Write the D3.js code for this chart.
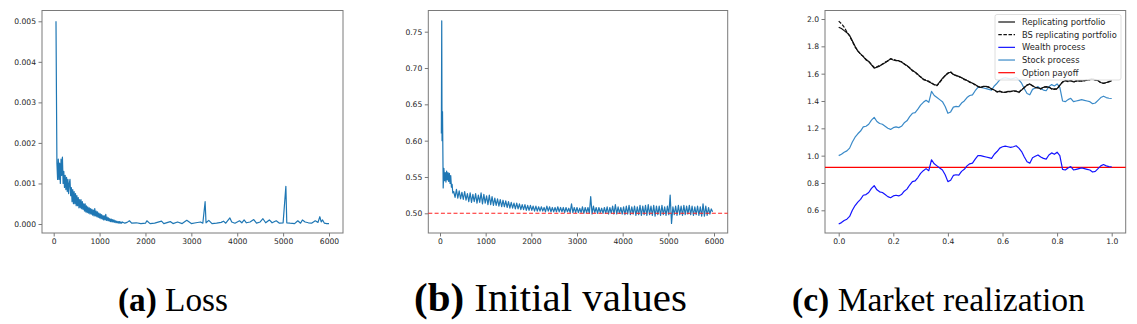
<!DOCTYPE html>
<html><head><meta charset="utf-8">
<script src="https://cdn.jsdelivr.net/npm/d3@7"></script>
<style>body{margin:0;background:#fff}svg{display:block}</style>
</head><body>
<svg id="chart" width="1137" height="324"></svg>
<script>
// ---------- Panel (a): Loss ----------
const lossHeadIter = [50,60];
const lossHeadVal = [0.0050,0.0032];
const lossBandIter = d3.range(70, 1510, 15);
const lossBandVal = [
  0.0015,0.0011,0.0016,0.0011,0.0015,0.0010,0.0016,0.0012,0.00165,0.0010,
  0.0013,0.0009,0.0012,0.00085,0.00115,0.0008,0.0011,0.00075,0.0010,0.0011,
  0.0007,0.0009,0.00055,0.00085,0.0005,0.0008,0.0005,0.00075,0.00045,0.0007,
  0.00045,0.00065,0.0004,0.0006,0.0004,0.0006,0.00038,0.00055,0.00036,0.0005,
  0.00032,0.0005,0.0003,0.00045,0.00028,0.00042,0.00027,0.0004,0.00025,0.00038,
  0.00024,0.00036,0.00022,0.00034,0.0002,0.00038,0.0002,0.00032,0.00018,0.0003,
  0.00016,0.00027,0.00015,0.00025,0.00013,0.00023,0.00012,0.00021,0.0001,0.0002,
  0.0001,0.00024,0.00009,0.00017,0.00008,0.00015,0.00007,0.00013,0.00006,0.00012,
  0.00005,0.00011,0.00005,0.0001,0.00004,0.00008,0.00003,0.00007,0.00003,0.00006,
  0.00002,0.00006,0.00002,0.00005,0.00002,0.00005];
const lossTailIter = [1550,1600,1650,1700,1800,1900,2000,2030,2100,2200,2350,2400,2540,2600,2700,2800,2900,3000,3100,3200,3250,3300,3320,3380,3450,3550,3650,3700,3750,3840,3880,3950,4050,4100,4150,4200,4280,4360,4420,4500,4560,4620,4700,4760,4850,4920,5000,5060,5080,5150,5250,5320,5380,5420,5480,5550,5620,5700,5760,5800,5830,5860,5900,5950,6000];
const lossTailVal = [0.00002,0.00004,0.00008,0.00002,0.00003,0.00001,0.00002,0.00008,0.00001,0.00002,0.00007,0.00001,0.00006,0.00001,0.00005,0.00001,0.00009,0.00001,0.00003,0.00005,0.00002,0.00055,0.00003,0.00009,0.00001,0.00002,0.00004,0.00007,0.00002,0.00015,0.00005,0.00002,0.00008,0.00003,0.0001,0.00003,0.00005,0.00011,0.00002,0.00005,0.00013,0.00003,0.0001,0.00003,0.00008,0.00002,0.00003,0.00093,0.00003,0.00002,0.00001,0.00008,0.00002,0.0001,0.00005,0.00003,0.00002,0.00008,0.00004,0.00018,0.00005,0.0001,0.00002,0.00001,0.00001];
const lossXTicks = [0,1000,2000,3000,4000,5000,6000];
const lossYTicks = [0,0.001,0.002,0.003,0.004,0.005];

// ---------- Panel (b): Initial values ----------
const initHeadIter = [30,38,45,55,70,85,100,115,130,145,160,175,190,205,220,235,250,265,280];
const initHeadVal = [0.61,0.765,0.60,0.64,0.535,0.562,0.545,0.556,0.543,0.558,0.546,0.556,0.544,0.555,0.541,0.552,0.536,0.540,0.528];
const initBandIter = d3.range(300, 6000, 30);
const initBandVal = [
  0.530,0.522,0.533,0.521,0.531,0.520,0.529,0.519,0.530,0.518,
  0.527,0.516,0.528,0.515,0.526,0.516,0.527,0.514,0.525,0.515,
  0.528,0.513,0.526,0.514,0.524,0.512,0.525,0.512,0.523,0.511,
  0.521,0.511,0.520,0.510,0.519,0.509,0.518,0.509,0.517,0.508,
  0.516,0.507,0.515,0.507,0.514,0.506,0.514,0.506,0.513,0.505,
  0.512,0.505,0.512,0.504,0.511,0.504,0.511,0.504,0.510,0.503,
  0.510,0.503,0.509,0.503,0.509,0.503,0.508,0.502,0.510,0.503,
  0.509,0.502,0.508,0.502,0.508,0.502,0.509,0.502,0.508,0.502,
  0.508,0.501,0.508,0.502,0.507,0.501,0.513,0.501,0.508,0.501,
  0.508,0.501,0.507,0.501,0.509,0.500,0.508,0.501,0.508,0.500,
  0.523,0.499,0.510,0.501,0.508,0.500,0.508,0.501,0.507,0.500,
  0.508,0.500,0.509,0.499,0.508,0.500,0.510,0.499,0.512,0.499,
  0.509,0.500,0.508,0.499,0.509,0.498,0.510,0.499,0.511,0.498,
  0.509,0.499,0.510,0.497,0.509,0.498,0.511,0.497,0.510,0.498,
  0.511,0.497,0.512,0.498,0.510,0.497,0.511,0.496,0.510,0.498,
  0.510,0.497,0.511,0.498,0.509,0.497,0.510,0.498,0.525,0.486,
  0.509,0.498,0.510,0.497,0.511,0.498,0.510,0.497,0.511,0.498,
  0.510,0.499,0.511,0.498,0.510,0.497,0.509,0.498,0.510,0.497,
  0.509,0.496,0.513,0.496,0.510,0.497,0.508,0.499,0.506,0.502];
const initTarget = 0.5;
const initXTicks = [0,1000,2000,3000,4000,5000,6000];
const initYTicks = [0.50,0.55,0.60,0.65,0.70,0.75];

// ---------- Panel (c): Market realization ----------
const mktTime = d3.range(101).map(i => i / 100);
const replicating = [1.940,1.930,1.915,1.900,1.880,1.840,1.800,1.765,1.745,1.725,1.700,1.690,1.665,1.640,1.648,1.655,1.670,1.680,1.695,1.707,1.700,1.695,1.695,1.685,1.670,1.660,1.640,1.625,1.610,1.595,1.575,1.560,1.550,1.545,1.530,1.520,1.515,1.540,1.565,1.585,1.605,1.610,1.595,1.585,1.580,1.570,1.560,1.550,1.540,1.530,1.520,1.505,1.500,1.505,1.508,1.500,1.490,1.480,1.468,1.470,1.465,1.462,1.470,1.468,1.475,1.470,1.465,1.480,1.500,1.515,1.525,1.510,1.500,1.495,1.490,1.500,1.505,1.500,1.490,1.485,1.490,1.515,1.540,1.548,1.545,1.548,1.540,1.545,1.548,1.545,1.550,1.552,1.558,1.560,1.555,1.548,1.535,1.528,1.535,1.540,1.548];
const bsReplicating = [1.985,1.965,1.940,1.905,1.875,1.835,1.795,1.770,1.740,1.728,1.705,1.688,1.668,1.645,1.650,1.660,1.668,1.684,1.692,1.710,1.704,1.698,1.690,1.688,1.672,1.655,1.645,1.620,1.612,1.590,1.578,1.556,1.552,1.540,1.533,1.518,1.512,1.536,1.562,1.588,1.602,1.614,1.592,1.588,1.576,1.572,1.556,1.552,1.536,1.532,1.516,1.508,1.497,1.508,1.505,1.503,1.486,1.483,1.465,1.473,1.462,1.465,1.467,1.471,1.472,1.473,1.462,1.483,1.497,1.518,1.522,1.513,1.497,1.498,1.487,1.503,1.502,1.503,1.487,1.488,1.487,1.518,1.537,1.551,1.542,1.551,1.537,1.548,1.545,1.548,1.547,1.555,1.555,1.563,1.552,1.551,1.532,1.531,1.532,1.543,1.545];
const wealth = [0.500,0.510,0.525,0.535,0.555,0.600,0.635,0.660,0.680,0.710,0.715,0.730,0.760,0.780,0.750,0.735,0.730,0.715,0.700,0.692,0.705,0.710,0.705,0.715,0.740,0.755,0.785,0.810,0.815,0.840,0.870,0.890,0.905,0.890,0.970,0.940,0.925,0.910,0.895,0.860,0.810,0.820,0.855,0.860,0.858,0.885,0.900,0.925,0.940,0.945,0.975,1.000,1.000,0.995,0.990,0.985,0.980,1.010,1.030,1.055,1.065,1.070,1.065,1.060,1.065,1.072,1.055,1.030,0.990,0.955,0.945,0.985,0.995,1.005,0.990,0.980,0.975,1.005,1.020,1.010,1.025,1.000,0.900,0.895,0.910,0.920,0.895,0.900,0.905,0.910,0.905,0.900,0.895,0.880,0.885,0.905,0.925,0.935,0.925,0.920,0.918];
const stock = [1.000,1.010,1.025,1.035,1.055,1.100,1.135,1.160,1.180,1.210,1.215,1.230,1.260,1.280,1.250,1.235,1.230,1.215,1.200,1.192,1.205,1.210,1.205,1.215,1.240,1.255,1.285,1.310,1.315,1.340,1.370,1.390,1.405,1.390,1.470,1.440,1.425,1.410,1.395,1.360,1.310,1.320,1.355,1.360,1.358,1.385,1.400,1.425,1.440,1.445,1.475,1.500,1.500,1.495,1.490,1.485,1.480,1.510,1.530,1.555,1.565,1.570,1.565,1.560,1.565,1.572,1.555,1.530,1.490,1.455,1.445,1.485,1.495,1.505,1.490,1.480,1.475,1.505,1.520,1.510,1.525,1.500,1.400,1.395,1.410,1.420,1.395,1.400,1.405,1.410,1.405,1.400,1.395,1.380,1.385,1.405,1.425,1.435,1.425,1.420,1.418];
const optionPayoff = 0.914;
const mktXTicks = [0,0.2,0.4,0.6,0.8,1.0];
const mktYTicks = [0.6,0.8,1.0,1.2,1.4,1.6,1.8,2.0];
const legendLabels = ["Replicating portfolio","BS replicating portfolio","Wealth process","Stock process","Option payoff"];
const captions = [["(a)"," Loss"],["(b)"," Initial values"],["(c)"," Market realization"]];

// ---------- Drawing ----------
const svg = d3.select("#chart");
const TICKFONT = "DejaVu Sans, sans-serif";

function panel(cfg) {
  const g = svg.append("g");
  const x = d3.scaleLinear().domain(cfg.xDom).range(cfg.xRng);
  const y = d3.scaleLinear().domain(cfg.yDom).range(cfg.yRng);
  const f = cfg.frame;
  const xa = g.append("g").attr("transform", `translate(0,${f.b})`)
    .call(d3.axisBottom(x).tickValues(cfg.xTicks).tickFormat(cfg.xFmt).tickSize(3.5).tickPadding(2.5));
  const ya = g.append("g").attr("transform", `translate(${f.l},0)`)
    .call(d3.axisLeft(y).tickValues(cfg.yTicks).tickFormat(cfg.yFmt).tickSize(3.5).tickPadding(2.5));
  [xa, ya].forEach(a => {
    a.select(".domain").remove();
    a.selectAll("line").attr("stroke", "#555").attr("stroke-width", 0.8);
    a.selectAll("text").attr("fill", "#262626").style("font-family", TICKFONT).style("font-size", "7.6px");
  });
  g.append("rect").attr("x", f.l).attr("y", f.t).attr("width", f.r - f.l).attr("height", f.b - f.t)
    .attr("fill", "none").attr("stroke", "#7a7a7a").attr("stroke-width", 1);
  return {g, x, y, f};
}

function drawLine(p, xs, ys, color, width, dash) {
  const line = d3.line().x((d, i) => p.x(xs[i])).y(d => p.y(d));
  const path = p.g.append("path").datum(ys).attr("d", line).attr("fill", "none")
    .attr("stroke", color).attr("stroke-width", width).attr("stroke-linejoin", "round");
  if (dash) path.attr("stroke-dasharray", dash);
  return path;
}

// Panel a
const pa = panel({xDom:[0,6000], xRng:[53.7,329], yDom:[0,0.005], yRng:[224,21.3],
  frame:{l:42,r:343,t:10.5,b:233}, xTicks:lossXTicks, yTicks:lossYTicks,
  xFmt:d3.format("d"), yFmt:d3.format(".3f")});
drawLine(pa, lossHeadIter.concat(lossBandIter, lossTailIter), lossHeadVal.concat(lossBandVal, lossTailVal), "#1f77b4", 1.2);

// Panel b
const pb = panel({xDom:[0,6000], xRng:[440,714], yDom:[0.5,0.75], yRng:[213.3,31.7],
  frame:{l:428.3,r:727.7,t:10.5,b:233}, xTicks:initXTicks, yTicks:initYTicks,
  xFmt:d3.format("d"), yFmt:d3.format(".2f")});
drawLine(pb, initHeadIter.concat(initBandIter), initHeadVal.concat(initBandVal), "#1f77b4", 1.2);
pb.g.append("line").attr("x1", pb.f.l).attr("x2", pb.f.r).attr("y1", pb.y(initTarget)).attr("y2", pb.y(initTarget))
  .attr("stroke", "#ff2020").attr("stroke-width", 1.1).attr("stroke-dasharray", "4,2.3");

// Panel c
const pc = panel({xDom:[0,1], xRng:[838.7,1111.7], yDom:[0.6,2.0], yRng:[210.3,19],
  frame:{l:825,r:1125.7,t:10.5,b:233}, xTicks:mktXTicks, yTicks:mktYTicks,
  xFmt:d3.format(".1f"), yFmt:d3.format(".1f")});
pc.g.append("line").attr("x1", pc.f.l).attr("x2", pc.f.r).attr("y1", pc.y(optionPayoff)).attr("y2", pc.y(optionPayoff))
  .attr("stroke", "#ff0000").attr("stroke-width", 1.2);
drawLine(pc, mktTime, stock, "#3a8ac8", 1.2);
drawLine(pc, mktTime, wealth, "#1414ff", 1.2);
drawLine(pc, mktTime, replicating, "#111", 1.2);
drawLine(pc, mktTime, bsReplicating, "#111", 1.2, "3.5,1.6");

// Legend
const legendStyles = [
  {c:"#111", d:null}, {c:"#111", d:"3.5,1.6"}, {c:"#1414ff", d:null}, {c:"#3a8ac8", d:null}, {c:"#ff0000", d:null}
];
const lg = pc.g.append("g");
lg.append("rect").attr("x", 995).attr("y", 14.5).attr("width", 126).attr("height", 65.5).attr("rx", 2)
  .attr("fill", "#fff").attr("fill-opacity", 0.85).attr("stroke", "#d6d6d6").attr("stroke-width", 0.8);
const rowY = d3.scaleLinear().domain([0, 4]).range([22, 72.7]);
legendLabels.forEach((lab, i) => {
  const yy = rowY(i);
  const ln = lg.append("line").attr("x1", 998.3).attr("x2", 1015).attr("y1", yy).attr("y2", yy)
    .attr("stroke", legendStyles[i].c).attr("stroke-width", 1.2);
  if (legendStyles[i].d) ln.attr("stroke-dasharray", legendStyles[i].d);
  lg.append("text").attr("x", 1022).attr("y", yy).attr("dy", "0.35em").text(lab)
    .attr("fill", "#262626").style("font-family", TICKFONT).style("font-size", "8.3px");
});

// Captions
const capBoxes = [[118,228],[414,687],[792,1085]];
captions.forEach((c, i) => {
  const t = svg.append("text").attr("y", 311).style("font-family", "Liberation Serif, serif")
    .style("font-size", "30px").attr("fill", "#000");
  t.append("tspan").text(c[0]).style("font-weight", "bold");
  t.append("tspan").text(c[1]);
  const w = t.node().getComputedTextLength();
  const target = capBoxes[i][1] - capBoxes[i][0];
  t.style("font-size", (30 * target / w) + "px").attr("x", capBoxes[i][0]);
});
</script>
</body></html>
